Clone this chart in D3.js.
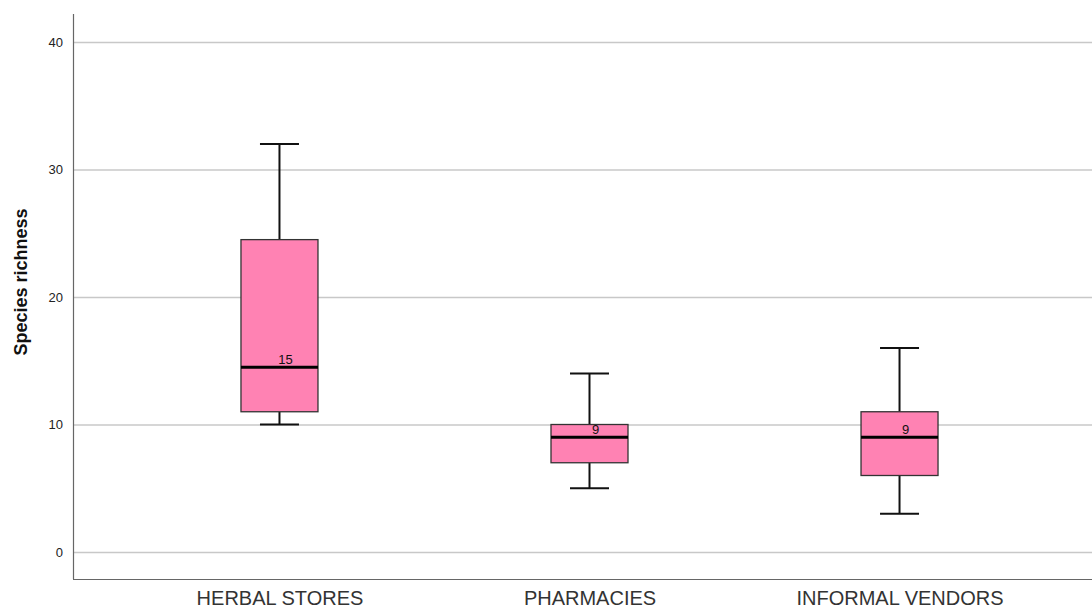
<!DOCTYPE html>
<html>
<head>
<meta charset="utf-8">
<script src="https://cdn.jsdelivr.net/npm/d3@7"></script>
<style>
  body { margin: 0; background: #fff; }
  svg { font-family: "Liberation Sans", Arial, sans-serif; }
</style>
</head>
<body>
<div id="chart"></div>
<script>
// Box plot data
var categories = ["HERBAL STORES", "PHARMACIES", "INFORMAL VENDORS"];
var mins = [10, 5, 3];
var q1s = [11, 7, 6];
var medians = [14.5, 9, 9];
var q3s = [24.5, 10, 11];
var maxs = [32, 14, 16];
var medianLabels = ["15", "9", "9"];
var yTicks = [0, 10, 20, 30, 40];

var svgWidth = 1092;
var svgHeight = 610;

var svg = d3.select("#chart")
  .append("svg")
  .attr("width", svgWidth)
  .attr("height", svgHeight);

var boxData = categories.map(function(c, i) {
  return { cat: c, min: mins[i], q1: q1s[i], med: medians[i], q3: q3s[i], max: maxs[i], label: medianLabels[i] };
});

// plot area (right side runs off the picture)
var plotLeft = 73, plotTop = 14, plotBottom = 579;

var yScale = d3.scaleLinear()
  .domain([0, 40])
  .range([552, 42]);

var xScale = d3.scalePoint()
  .domain(categories)
  .range([plotLeft, 1106])
  .padding(0.666);

var boxWidth = 77;
var capWidth = 39;

// gridlines
svg.append("g")
  .selectAll("line")
  .data(yTicks)
  .enter()
  .append("line")
  .attr("x1", plotLeft)
  .attr("x2", svgWidth)
  .attr("y1", d => yScale(d) + 0.5)
  .attr("y2", d => yScale(d) + 0.5)
  .attr("stroke", "#c8c8c8")
  .attr("stroke-width", 1.5);

// y axis
var leftAxis = d3.axisLeft(yScale)
  .tickValues(yTicks)
  .tickSize(0)
  .tickPadding(10);

var yAxisG = svg.append("g")
  .attr("transform", `translate(${plotLeft}, 0)`)
  .call(leftAxis);
yAxisG.select(".domain").remove();
yAxisG.selectAll("text")
  .attr("font-size", 13)
  .attr("fill", "#222")
  .attr("font-family", "Liberation Sans, Arial, sans-serif");

// x axis
var bottomAxis = d3.axisBottom(xScale)
  .tickSize(0)
  .tickPadding(12);

var xAxisG = svg.append("g")
  .attr("transform", `translate(0, ${plotBottom})`)
  .call(bottomAxis);
xAxisG.select(".domain").remove();
xAxisG.selectAll("text")
  .attr("font-size", 20)
  .attr("fill", "#333")
  .attr("font-family", "Liberation Sans, Arial, sans-serif");

// axis frame lines
svg.append("line")
  .attr("x1", plotLeft + 0.5).attr("x2", plotLeft + 0.5)
  .attr("y1", plotTop).attr("y2", plotBottom)
  .attr("stroke", "#666").attr("stroke-width", 1.2);
svg.append("line")
  .attr("x1", plotLeft).attr("x2", svgWidth)
  .attr("y1", plotBottom + 0.5).attr("y2", plotBottom + 0.5)
  .attr("stroke", "#666").attr("stroke-width", 1.2);

// boxes
var boxes = svg.append("g")
  .selectAll("g")
  .data(boxData)
  .enter()
  .append("g");

// whiskers
boxes.append("line")
  .attr("x1", d => xScale(d.cat)).attr("x2", d => xScale(d.cat))
  .attr("y1", d => yScale(d.max)).attr("y2", d => yScale(d.q3))
  .attr("stroke", "#111").attr("stroke-width", 2);
boxes.append("line")
  .attr("x1", d => xScale(d.cat)).attr("x2", d => xScale(d.cat))
  .attr("y1", d => yScale(d.q1)).attr("y2", d => yScale(d.min))
  .attr("stroke", "#111").attr("stroke-width", 2);

// caps
boxes.append("line")
  .attr("x1", d => xScale(d.cat) - capWidth / 2).attr("x2", d => xScale(d.cat) + capWidth / 2)
  .attr("y1", d => yScale(d.max)).attr("y2", d => yScale(d.max))
  .attr("stroke", "#111").attr("stroke-width", 2);
boxes.append("line")
  .attr("x1", d => xScale(d.cat) - capWidth / 2).attr("x2", d => xScale(d.cat) + capWidth / 2)
  .attr("y1", d => yScale(d.min)).attr("y2", d => yScale(d.min))
  .attr("stroke", "#111").attr("stroke-width", 2);

// box body
boxes.append("rect")
  .attr("x", d => xScale(d.cat) - boxWidth / 2)
  .attr("y", d => yScale(d.q3))
  .attr("width", boxWidth)
  .attr("height", d => yScale(d.q1) - yScale(d.q3))
  .attr("fill", "#ff82b3")
  .attr("stroke", "#333")
  .attr("stroke-width", 1.3);

// median
boxes.append("line")
  .attr("x1", d => xScale(d.cat) - boxWidth / 2).attr("x2", d => xScale(d.cat) + boxWidth / 2)
  .attr("y1", d => yScale(d.med)).attr("y2", d => yScale(d.med))
  .attr("stroke", "#000").attr("stroke-width", 3);

// median labels
boxes.append("text")
  .attr("x", d => xScale(d.cat) + 6)
  .attr("y", d => yScale(d.med) - 3)
  .attr("text-anchor", "middle")
  .attr("font-size", 13)
  .attr("fill", "#111")
  .text(d => d.label);

// y axis label
svg.append("text")
  .attr("transform", "translate(27, 282) rotate(-90)")
  .attr("text-anchor", "middle")
  .attr("font-size", 18)
  .attr("font-weight", "bold")
  .attr("fill", "#111")
  .text("Species richness");
</script>
</body>
</html>
